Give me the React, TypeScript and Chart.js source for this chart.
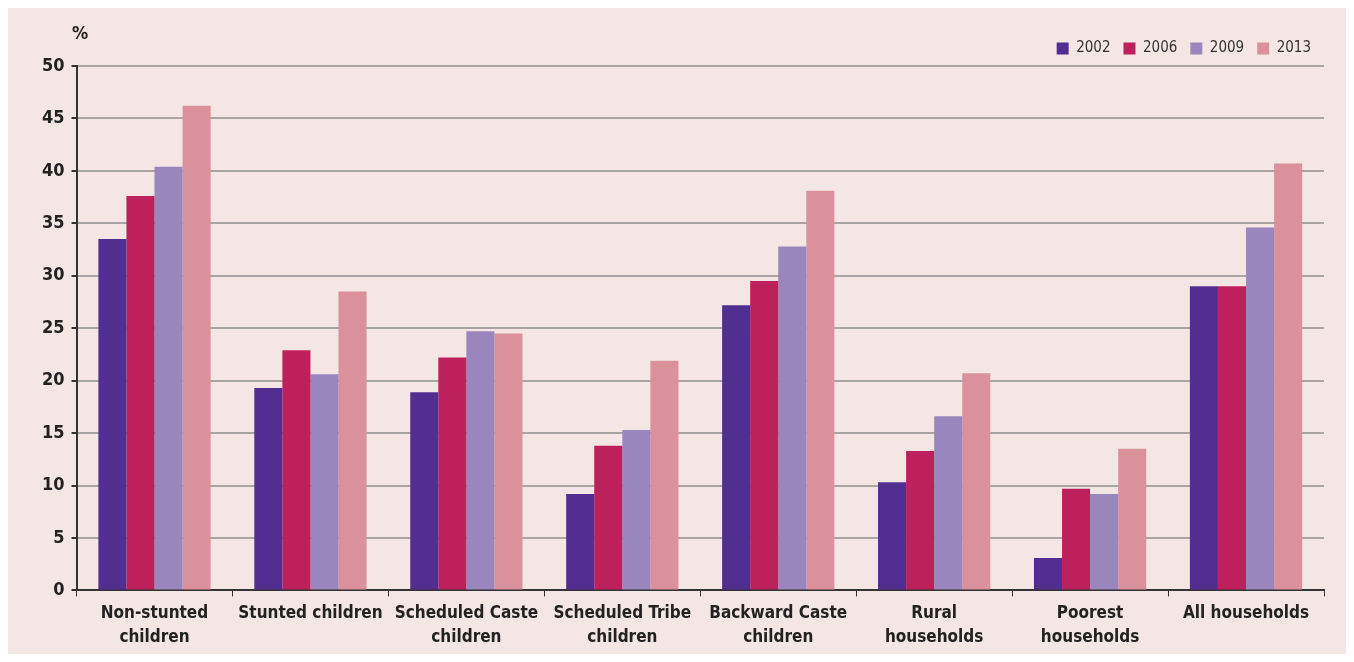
import React, { useEffect, useRef } from "react";
import { Chart, registerables } from "chart.js";

Chart.register(...registerables);

const categories: (string | string[])[] = [
  ["Non-stunted", "children"],
  "Stunted children",
  ["Scheduled Caste", "children"],
  ["Scheduled Tribe", "children"],
  ["Backward Caste", "children"],
  ["Rural", "households"],
  ["Poorest", "households"],
  "All households",
];

const years = ["2002", "2006", "2009", "2013"];

const values2002 = [33.5, 19.3, 18.9, 9.2, 27.2, 10.3, 3.1, 29.0];
const values2006 = [37.6, 22.9, 22.2, 13.8, 29.5, 13.3, 9.7, 29.0];
const values2009 = [40.4, 20.6, 24.7, 15.3, 32.8, 16.6, 9.2, 34.6];
const values2013 = [46.2, 28.5, 24.5, 21.9, 38.1, 20.7, 13.5, 40.7];

const colors = ["#522E91", "#BD215B", "#9886BD", "#DA919C"];

const yTicks = [0, 5, 10, 15, 20, 25, 30, 35, 40, 45, 50];

const FONT = '"Liberation Sans Narrow", "DejaVu Sans Condensed", "Liberation Sans", Arial, sans-serif';

const bgPlugin = {
  id: "bgPlugin",
  beforeDraw(chart: any) {
    const ctx = chart.ctx;
    ctx.save();
    ctx.fillStyle = "#F5E6E6";
    ctx.fillRect(0, 0, chart.width, chart.height);
    ctx.restore();
  },
  afterDraw(chart: any) {
    const ctx = chart.ctx;
    ctx.save();
    ctx.fillStyle = "#222";
    ctx.font = `bold 18px ${FONT}`;
    ctx.textAlign = "left";
    ctx.textBaseline = "middle";
    ctx.fillText("%", 64, 26);
    ctx.restore();
  },
};

export default function App() {
  const ref = useRef<HTMLCanvasElement | null>(null);
  useEffect(() => {
    if (!ref.current) return;
    const series = [values2002, values2006, values2009, values2013];
    const chart = new Chart(ref.current, {
      type: "bar",
      data: {
        labels: categories,
        datasets: years.map((y, i) => ({
          label: y,
          data: series[i],
          backgroundColor: colors[i],
          borderWidth: 0,
          categoryPercentage: 0.72,
          barPercentage: 1.0,
        })),
      },
      options: {
        animation: false,
        responsive: false,
        maintainAspectRatio: false,
        layout: { padding: { left: 27, right: 22, top: 20, bottom: 0 } },
        plugins: {
          legend: {
            position: "top",
            align: "end",
            labels: {
              boxWidth: 12,
              boxHeight: 12,
              color: "#333",
              font: { family: FONT, size: 15 },
              padding: 13,
            },
          },
          tooltip: { enabled: false },
        },
        scales: {
          x: {
            grid: {
              drawOnChartArea: false,
              drawTicks: true,
              tickLength: 6,
              tickColor: "#333",
              offset: true,
            },
            border: { color: "#333", width: 2 },
            ticks: {
              color: "#222",
              font: { family: FONT, size: 17, weight: "bold", lineHeight: 1.4 },
              maxRotation: 0,
              autoSkip: false,
              padding: 5,
            },
          },
          y: {
            min: 0,
            max: 50,
            afterBuildTicks: (axis: any) => {
              axis.ticks = yTicks.map((v) => ({ value: v }));
            },
            grid: {
              color: "#A9A5A5",
              lineWidth: 2,
              tickLength: 5,
              tickColor: "#333",
            },
            border: { color: "#333", width: 2 },
            ticks: {
              color: "#222",
              font: { family: FONT, size: 18, weight: "bold" },
              padding: 7,
            },
          },
        },
      },
      plugins: [bgPlugin],
    });
    return () => chart.destroy();
  }, []);
  return (
    <canvas ref={ref} width={1338} height={646} style={{ display: "block" }} />
  );
}
